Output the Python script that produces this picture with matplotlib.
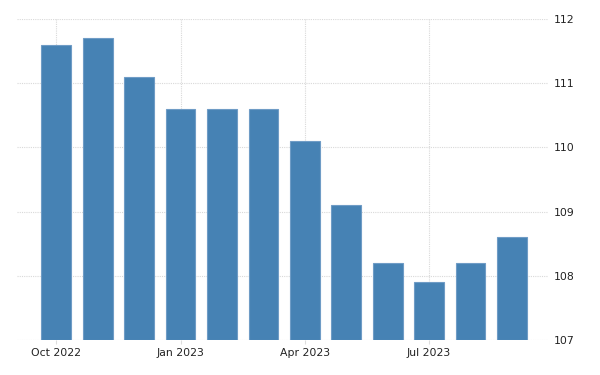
import matplotlib
matplotlib.use("Agg")
import matplotlib.pyplot as plt
import numpy as np

months = ["Oct 2022", "Nov 2022", "Dec 2022", "Jan 2023", "Feb 2023", "Mar 2023",
          "Apr 2023", "May 2023", "Jun 2023", "Jul 2023", "Aug 2023", "Sep 2023"]
values = [111.6, 111.7, 111.1, 110.6, 110.6, 110.6, 110.1, 109.1, 108.2, 107.9, 108.2, 108.6]
xtick_labels = ["Oct 2022", "Jan 2023", "Apr 2023", "Jul 2023"]
yticks = [107, 108, 109, 110, 111, 112]

fig = plt.figure(figsize=(6, 3.75), dpi=100)
ax = fig.add_axes([0.0283, 0.0933, 0.885, 0.856])

x = np.arange(len(months))
ax.bar(x, [v - 107 for v in values], bottom=107, width=0.72, color="#4682B4",
       edgecolor="#6F9CC6", linewidth=0.8, zorder=3)

ax.set_xlim(-0.95, 11.87)
ax.set_ylim(107, 112)

tick_pos = [months.index(m) for m in xtick_labels]
ax.set_xticks(tick_pos)
ax.set_xticklabels(xtick_labels)
ax.set_yticks(yticks)
ax.yaxis.tick_right()
ax.tick_params(axis="y", length=0, pad=4, labelsize=7.8, labelcolor="#222222")
ax.tick_params(axis="x", length=3, width=0.8, color="#dddddd", pad=3, labelsize=7.8,
               labelcolor="#222222")

ax.grid(True, axis="both", linestyle=(0, (1, 1)), color="#d9d9d9", linewidth=0.8, zorder=0)
for s in ax.spines.values():
    s.set_visible(False)

fig.savefig("out.png", dpi=100)
